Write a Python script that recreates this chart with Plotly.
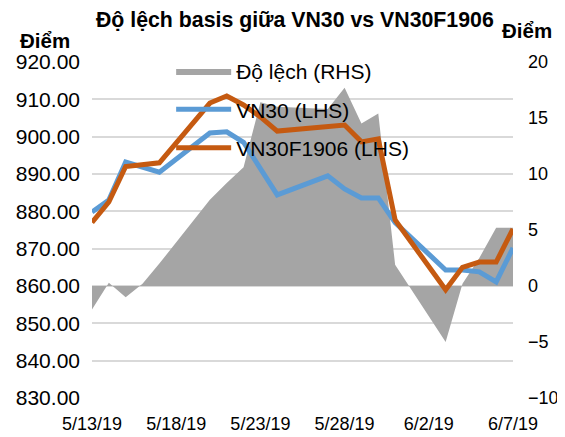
import plotly.graph_objects as go

dates = ["2019-05-13", "2019-05-14", "2019-05-15", "2019-05-16", "2019-05-17",
         "2019-05-20", "2019-05-21", "2019-05-22", "2019-05-23", "2019-05-24",
         "2019-05-27", "2019-05-28", "2019-05-29", "2019-05-30", "2019-05-31",
         "2019-06-03", "2019-06-04", "2019-06-05", "2019-06-06", "2019-06-07"]

vn30 = [879.8, 883.0, 893.2, 891.8, 890.5,
        901.0, 901.3, 898.5, 891.5, 884.4,
        889.5, 886.0, 883.6, 883.6, 877.0,
        864.3, 864.3, 863.8, 861.1, 870.2]

vn30f1906 = [877.0, 882.5, 892.0, 892.5, 893.0,
             909.0, 910.9, 908.5, 905.3, 901.5,
             902.6, 903.1, 898.6, 899.4, 877.7,
             859.0, 865.0, 866.4, 866.4, 875.3]

do_lech = [-2.1, 0.3, -1.0, 0.2, 2.0,
           7.7, 9.2, 10.6, 16.4, 16.0,
           15.8, 17.7, 14.5, 15.4, 1.9,
           -5.0, 0.2, 2.5, 5.2, 5.2]

tick_dates = ["2019-05-13", "2019-05-18", "2019-05-23", "2019-05-28", "2019-06-02", "2019-06-07"]
tick_text = ["5/13/19", "5/18/19", "5/23/19", "5/28/19", "6/2/19", "6/7/19"]

FONT = "Liberation Sans, Arial, sans-serif"

fig = go.Figure()
fig.add_trace(go.Scatter(
    x=dates, y=do_lech, name="Độ lệch (RHS)", mode="lines",
    fill="tozeroy", fillcolor="#A5A5A5", line=dict(width=0, color="#A5A5A5"),
    yaxis="y", legendgroup="a"))
fig.add_trace(go.Scatter(
    x=dates, y=vn30, name="VN30 (LHS)", mode="lines",
    line=dict(color="#5B9BD5", width=5), yaxis="y2", legendgroup="b"))
fig.add_trace(go.Scatter(
    x=dates, y=vn30f1906, name="VN30F1906 (LHS)", mode="lines",
    line=dict(color="#C55A11", width=5), yaxis="y2", legendgroup="c"))

# the page body adds an 8px margin, so the figure is sized to fit inside the window
fig.update_layout(
    width=557, height=429,
    margin=dict(l=84, r=52, t=54, b=39, autoexpand=False),
    paper_bgcolor="white", plot_bgcolor="white",
    font=dict(family=FONT, size=20, color="#000000"),
    title=dict(text="<b>Độ lệch basis giữa VN30 vs VN30F1906</b>",
               x=0.515, xanchor="center", y=0.974, yanchor="middle",
               font=dict(size=21.3, color="#000000")),
    xaxis=dict(type="date", range=["2019-05-13", "2019-06-07"],
               tickvals=tick_dates, ticktext=tick_text, showgrid=False,
               zeroline=False, showline=False, ticks="", automargin=False,
               ticklabelstandoff=13, tickfont=dict(size=18)),
    yaxis=dict(side="right", range=[-10, 20], dtick=5, showgrid=False,
               zeroline=False, showline=False, ticks="", automargin=False,
               ticklabelstandoff=14, tickfont=dict(size=18)),
    yaxis2=dict(side="left", overlaying="y", range=[830, 920], dtick=10,
                tickformat=".2f", showgrid=True, gridcolor="#D9D9D9", gridwidth=1.5,
                zeroline=False, showline=False, ticks="", automargin=False,
                ticklabelstandoff=11, tickfont=dict(size=21)),
    legend=dict(x=0.188, y=1.033, xanchor="left", yanchor="top",
                bgcolor="rgba(0,0,0,0)", font=dict(size=21),
                itemwidth=55,
                tracegroupgap=8, traceorder="grouped"),
    showlegend=True,
    annotations=[
        dict(text="<b>Điểm</b>", xref="paper", yref="paper", x=-0.112, y=1.065,
             xanchor="center", yanchor="middle", showarrow=False,
             font=dict(size=20.5, color="#000000")),
        dict(text="<b>Điểm</b>", xref="paper", yref="paper", x=1.033, y=1.095,
             xanchor="center", yanchor="middle", showarrow=False,
             font=dict(size=20.5, color="#000000")),
    ],
)

fig.write_html("out.html")
